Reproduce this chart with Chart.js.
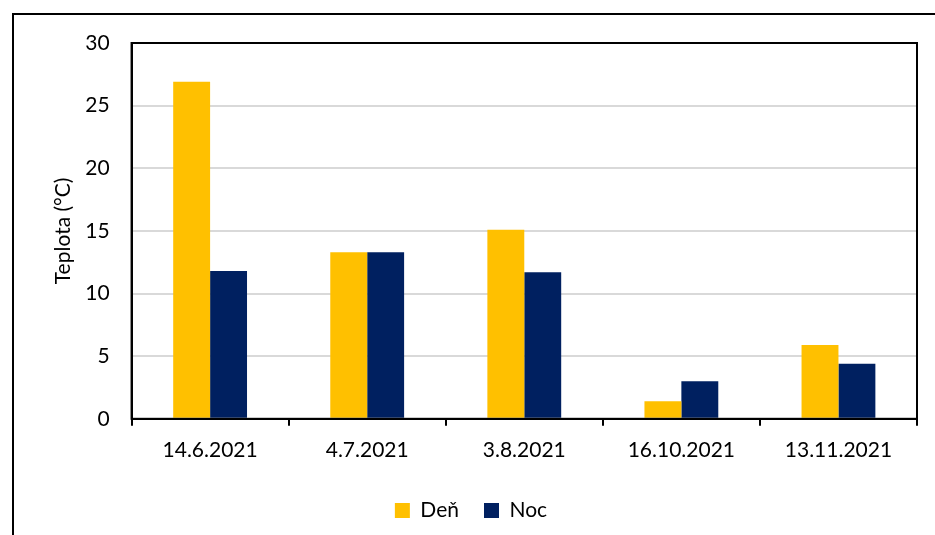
<!DOCTYPE html>
<html>
<head>
<meta charset="utf-8">
<script src="https://cdn.jsdelivr.net/npm/chart.js@4/dist/chart.umd.min.js"></script>
<style>
  html, body { margin: 0; padding: 0; background: #fff; overflow: hidden; }
  #wrap { position: relative; width: 935px; height: 535px; }
  #frame { position: absolute; left: 12px; top: 13px; width: 940px; height: 540px;
           border-left: 2px solid #000; border-top: 2px solid #000; }
  canvas { position: absolute; left: 0; top: 0; }
</style>
</head>
<body>
<div id="wrap">
  <div id="frame"></div>
  <canvas id="chart" width="935" height="535"></canvas>
</div>
<script>
const dates = ["14.6.2021", "4.7.2021", "3.8.2021", "16.10.2021", "13.11.2021"];
const den = [26.9, 13.3, 15.1, 1.4, 5.9];
const noc = [11.8, 13.3, 11.7, 3.0, 4.4];

const plotBox = {
  id: "plotBox",
  afterDraw(chart) {
    const a = chart.chartArea;
    const ctx = chart.ctx;
    ctx.save();
    ctx.strokeStyle = "#000";
    ctx.lineWidth = 2;
    ctx.strokeRect(a.left, a.top, a.right - a.left, a.bottom - a.top);
    ctx.restore();
  }
};

const font = { family: "Lato", size: 21 };

new Chart(document.getElementById("chart"), {
  type: "bar",
  data: {
    labels: dates,
    datasets: [
      { label: "Deň", data: den, backgroundColor: "#FFC000" },
      { label: "Noc", data: noc, backgroundColor: "#002060" }
    ]
  },
  options: {
    responsive: false,
    animation: false,
    devicePixelRatio: 1,
    layout: { padding: { left: 25, right: 18, top: 43, bottom: 4 } },
    datasets: { bar: { categoryPercentage: 0.47, barPercentage: 1.0 } },
    plugins: {
      legend: {
        position: "bottom",
        labels: { font: font, color: "#000", boxWidth: 15, boxHeight: 15, padding: 25 }
      },
      tooltip: { enabled: false }
    },
    scales: {
      x: {
        grid: { drawOnChartArea: false, drawTicks: true, tickLength: 7, color: "#000", lineWidth: 2 },
        border: { color: "#000", width: 2 },
        ticks: { font: font, color: "#000", padding: 12 }
      },
      y: {
        min: 0, max: 30,
        grid: { color: "#d9d9d9", lineWidth: 2, drawTicks: false },
        border: { color: "#000", width: 2 },
        ticks: { stepSize: 5, font: font, color: "#000", padding: 22 },
        title: { display: true, text: "Teplota (°C)", font: { family: "Lato", size: 21 }, color: "#000", padding: { top: 26, bottom: -13 } }
      }
    }
  },
  plugins: [plotBox]
});
</script>
</body>
</html>
